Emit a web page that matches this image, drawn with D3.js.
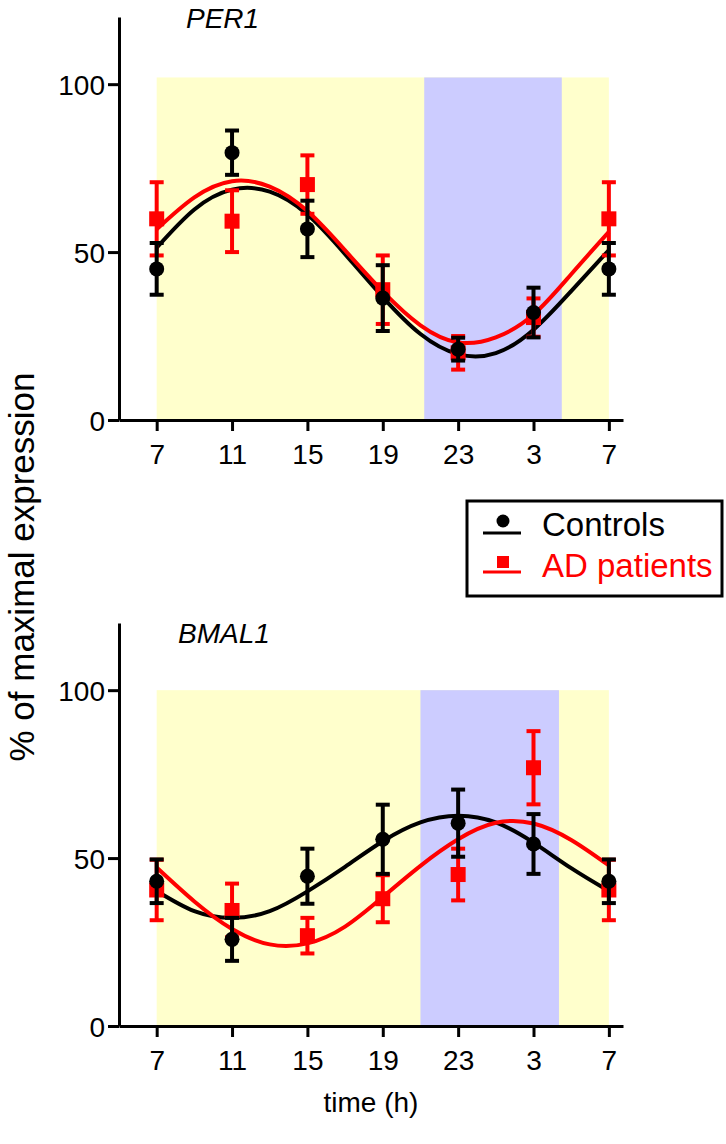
<!DOCTYPE html>
<html><head><meta charset="utf-8">
<script src="https://cdn.jsdelivr.net/npm/d3@7"></script>
<style>body{margin:0;background:#fff}svg{display:block;font-family:"Liberation Sans",Arial,sans-serif}</style>
</head><body><svg id="c" width="726" height="1144"></svg>
<script>
// ---- data ----
const sampleTimes = [7, 11, 15, 19, 23, 27, 31];
const tickLabels = ["7", "11", "15", "19", "23", "3", "7"];
const yTicks = [0, 50, 100];
const seriesNames = ["Controls", "AD patients"];

const per1Ctrl = [45, 79.6, 56.9, 36.3, 21.1, 32.0, 45];
const per1CtrlErr = [7.7, 6.6, 8.4, 9.8, 3.4, 7.4, 7.7];
const per1AD = [59.9, 59.2, 70.1, 38.8, 20, 30.5, 59.9];
const per1ADErr = [10.9, 9.2, 8.7, 10.2, 5, 5.7, 10.9];

const bmalCtrl = [43.1, 25.8, 44.6, 55.6, 60.4, 54.2, 43.1];
const bmalCtrlErr = [6.5, 6.4, 8.2, 10.3, 10, 8.9, 6.5];
const bmalAD = [40.5, 34.4, 26.9, 37.9, 45.1, 76.9, 40.5];
const bmalADErr = [9, 8, 5.3, 7, 7.7, 10.9, 9];

// fitted curves, read at 2-hour steps
const fitTimes = [7, 9, 11, 13, 15, 17, 19, 21, 23, 25, 27, 29, 31];
const per1CtrlFit = [51.3, 62.7, 68.6, 68.0, 61.2, 49.4, 36.6, 25.6, 19.6, 19.9, 26.9, 38.4, 50.6];
const per1ADFit = [56.8, 66.3, 71.1, 69.5, 62.2, 50.5, 38.3, 28.2, 23.1, 24.6, 31.4, 43.4, 56.0];
const bmalCtrlFit = [40.2, 34.2, 32.2, 34.2, 40.1, 47.4, 55.0, 60.6, 62.6, 60.6, 54.6, 47.0, 40.2];
const bmalADFit = [47.2, 37.1, 28.9, 24.3, 24.6, 29.6, 38.4, 47.7, 55.6, 60.5, 60.3, 55.4, 47.8];

// light (yellow) / dark (blue) periods, in hours
const per1Dark = [21.2, 28.5];
const bmalDark = [21.0, 28.35];
const per1ShadeTop = 102;
const bmalShadeTop = 100;

// ---- drawing ----
const svg = d3.select("#c");
const FONT = 28;
const RED = "#ff0000";

const x = d3.scaleLinear().domain([5, 31.75]).range([119, 623]);

function panel(opt) {
  const y = d3.scaleLinear().domain([0, 120]).range([opt.y0, opt.y0 - 403]);
  const g = svg.append("g");
  const light0 = 7, light1 = 31;
  g.append("rect").attr("x", x(light0)).attr("y", y(opt.shadeTop))
    .attr("width", x(light1) - x(light0)).attr("height", y(0) - y(opt.shadeTop)).attr("fill", "#ffffcc");
  g.append("rect").attr("x", x(opt.dark[0])).attr("y", y(opt.shadeTop))
    .attr("width", x(opt.dark[1]) - x(opt.dark[0])).attr("height", y(0) - y(opt.shadeTop)).attr("fill", "#ccccff");

  const xa = d3.axisBottom(x).tickValues(sampleTimes).tickFormat((d, i) => tickLabels[i]).tickSize(11).tickSizeOuter(0);
  const gx = g.append("g").attr("transform", `translate(0,${opt.y0})`).call(xa);
  const ya = d3.axisLeft(y).tickValues(yTicks).tickSize(11).tickSizeOuter(0);
  const gy = g.append("g").attr("transform", `translate(${x.range()[0]},0)`).call(ya);
  [gx, gy].forEach(a => {
    a.select(".domain").attr("stroke", "#000").attr("stroke-width", 3);
    a.selectAll(".tick line").attr("stroke", "#000").attr("stroke-width", 3);
    a.selectAll(".tick text").attr("fill", "#000").attr("font-size", FONT).attr("font-family", "Liberation Sans, Arial, sans-serif");
  });
  gx.selectAll(".tick text").attr("dy", null).attr("y", 44);
  gy.selectAll(".tick text").attr("x", -14).attr("dy", "0.36em");
  g.append("text").attr("x", opt.titleX).attr("y", opt.titleY).attr("font-size", FONT)
    .attr("font-style", "italic").text(opt.title);

  const line = d3.line().x((d, i) => x(fitTimes[i])).y(d => y(d)).curve(d3.curveNatural);
  g.append("path").datum(opt.ctrlFit).attr("d", line).attr("fill", "none").attr("stroke", "#000").attr("stroke-width", 4);
  g.append("path").datum(opt.adFit).attr("d", line).attr("fill", "none").attr("stroke", RED).attr("stroke-width", 4);

  function bars(vals, errs, color) {
    const gg = g.append("g").attr("stroke", color).attr("stroke-width", 4);
    sampleTimes.forEach((t, i) => {
      const cx = x(t), hi = y(vals[i] + errs[i]), lo = y(vals[i] - errs[i]);
      gg.append("line").attr("x1", cx).attr("x2", cx).attr("y1", hi).attr("y2", lo);
      gg.append("line").attr("x1", cx - 7).attr("x2", cx + 7).attr("y1", hi).attr("y2", hi);
      gg.append("line").attr("x1", cx - 7).attr("x2", cx + 7).attr("y1", lo).attr("y2", lo);
    });
  }
  bars(opt.ad, opt.adErr, RED);
  g.append("g").selectAll("rect").data(opt.ad).join("rect")
    .attr("x", (d, i) => x(sampleTimes[i]) - 7.5).attr("y", d => y(d) - 7.5)
    .attr("width", 15).attr("height", 15).attr("fill", RED);
  bars(opt.ctrl, opt.ctrlErr, "#000");
  g.append("g").selectAll("circle").data(opt.ctrl).join("circle")
    .attr("cx", (d, i) => x(sampleTimes[i])).attr("cy", d => y(d)).attr("r", 7.5).attr("fill", "#000");
}

panel({ y0: 420, dark: per1Dark, shadeTop: per1ShadeTop, title: "PER1", titleX: 186, titleY: 28,
  ctrl: per1Ctrl, ctrlErr: per1CtrlErr, ad: per1AD, adErr: per1ADErr, ctrlFit: per1CtrlFit, adFit: per1ADFit });
panel({ y0: 1026, dark: bmalDark, shadeTop: bmalShadeTop, title: "BMAL1", titleX: 178, titleY: 643,
  ctrl: bmalCtrl, ctrlErr: bmalCtrlErr, ad: bmalAD, adErr: bmalADErr, ctrlFit: bmalCtrlFit, adFit: bmalADFit });

// axis labels
svg.append("text").attr("transform", "translate(34,567) rotate(-90)").attr("text-anchor", "middle")
  .attr("font-size", 35).text("% of maximal expression");
svg.append("text").attr("x", 371).attr("y", 1112).attr("text-anchor", "middle").attr("font-size", FONT).text("time (h)");

// legend
const lg = svg.append("g");
lg.append("rect").attr("x", 467).attr("y", 501).attr("width", 255).attr("height", 95)
  .attr("fill", "#fff").attr("stroke", "#000").attr("stroke-width", 3);
const rows = [{ name: seriesNames[0], color: "#000", shape: "circle", base: 536, mark: 521, line: 533 },
              { name: seriesNames[1], color: RED, shape: "square", base: 577, mark: 562, line: 572 }];
rows.forEach(r => {
  lg.append("line").attr("x1", 483).attr("x2", 521).attr("y1", r.line).attr("y2", r.line)
    .attr("stroke", r.color).attr("stroke-width", 3);
  if (r.shape === "circle") lg.append("circle").attr("cx", 503).attr("cy", r.mark).attr("r", 6.5).attr("fill", r.color);
  else lg.append("rect").attr("x", 497).attr("y", r.mark - 6).attr("width", 12).attr("height", 12).attr("fill", r.color);
  lg.append("text").attr("x", 542).attr("y", r.base).attr("font-size", 33).attr("fill", r.color).text(r.name);
});
</script></body></html>
